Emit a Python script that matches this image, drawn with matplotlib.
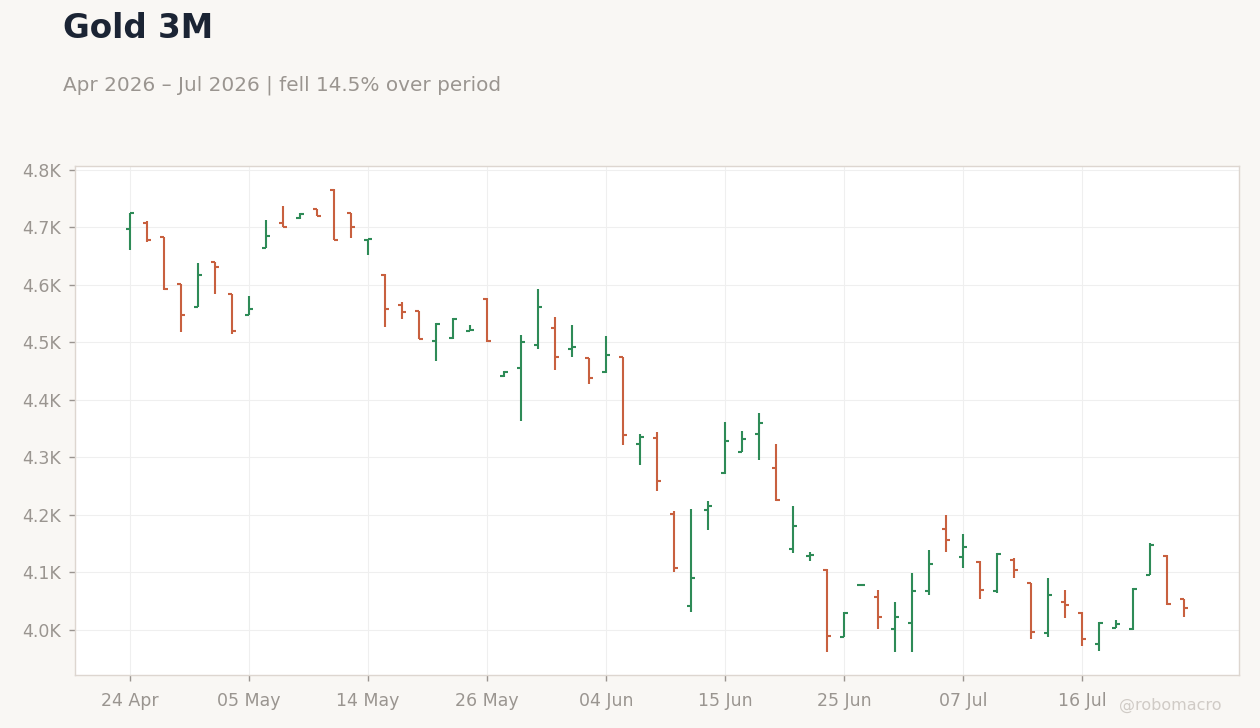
import numpy as np
import pandas as pd
import matplotlib
matplotlib.use("Agg")
import matplotlib.pyplot as plt

# trading days (US holidays skipped: 25 May, 19 Jun, 03 Jul)
dates = pd.bdate_range("2026-04-24", periods=63, freq="C",
                       holidays=["2026-05-25", "2026-06-19", "2026-07-03"])

opens = [4696, 4708, 4682, 4601, 4562, 4639, 4583, 4548, 4664, 4707,
         4715, 4731, 4764, 4724, 4678, 4616, 4564, 4554, 4503, 4508,
         4520, 4575, 4441, 4455, 4495, 4524, 4489, 4472, 4448, 4474,
         4324, 4333, 4201, 4042, 4209, 4272, 4310, 4340, 4281, 4140,
         4128, 4105, 3988, 4079, 4058, 4002, 4013, 4067, 4176, 4126,
         4118, 4067, 4122, 4081, 3995, 4049, 4030, 3975, 4004, 4002,
         4096, 4129, 4053]
highs = [4725, 4710, 4683, 4602, 4638, 4640, 4584, 4581, 4713, 4737,
         4724, 4732, 4766, 4725, 4680, 4618, 4570, 4555, 4533, 4542,
         4530, 4576, 4450, 4513, 4593, 4543, 4530, 4473, 4510, 4475,
         4341, 4344, 4207, 4210, 4224, 4361, 4346, 4377, 4324, 4216,
         4135, 4106, 4031, 4080, 4070, 4049, 4099, 4139, 4200, 4167,
         4120, 4133, 4125, 4082, 4090, 4070, 4031, 4014, 4017, 4073,
         4151, 4131, 4054]
lows = [4660, 4675, 4591, 4517, 4561, 4583, 4514, 4547, 4663, 4700,
        4714, 4719, 4677, 4681, 4651, 4526, 4540, 4505, 4467, 4506,
        4519, 4500, 4439, 4364, 4489, 4452, 4475, 4428, 4446, 4321,
        4286, 4241, 4100, 4031, 4173, 4271, 4309, 4296, 4224, 4134,
        4120, 3962, 3987, 4078, 4002, 3962, 3962, 4061, 4135, 4107,
        4053, 4065, 4091, 3985, 3987, 4020, 3973, 3964, 4003, 4000,
        4095, 4044, 4023]
closes = [4724, 4677, 4593, 4547, 4616, 4631, 4520, 4557, 4684, 4701,
          4722, 4720, 4678, 4700, 4679, 4557, 4553, 4506, 4532, 4541,
          4522, 4502, 4449, 4500, 4562, 4475, 4491, 4437, 4477, 4338,
          4336, 4259, 4108, 4091, 4216, 4329, 4331, 4359, 4225, 4181,
          4130, 3990, 4030, 4079, 4022, 4023, 4068, 4114, 4156, 4145,
          4070, 4132, 4105, 3997, 4061, 4044, 3985, 4013, 4011, 4072,
          4147, 4045, 4039]

title = "Gold 3M"
subtitle = "Apr 2026 \u2013 Jul 2026 | fell 14.5% over period"

UP = "#2e8b57"
DOWN = "#c8603f"
GREY = "#9a9590"

fig = plt.figure(figsize=(12.6, 7.28), dpi=100)
fig.patch.set_facecolor("#f9f7f4")
ax = fig.add_axes([75 / 1260, 53 / 728, 1164 / 1260, 509 / 728])
ax.set_facecolor("white")

x = np.arange(len(opens))
tick = 0.24
lw = 1.5
for i in x:
    c = UP if closes[i] >= opens[i] else DOWN
    ax.vlines(i, lows[i], highs[i], color=c, lw=lw)
    ax.hlines(opens[i], i - tick, i, color=c, lw=lw)
    ax.hlines(closes[i], i, i + tick, color=c, lw=lw)

n = len(opens) - 1
ax.set_xlim(-0.052 * n, n * 1.052)
rng = max(highs) - min(lows)
ax.set_ylim(min(lows) - 0.05 * rng, max(highs) + 0.05 * rng)

ticks_at = x[::7]
ax.set_xticks(ticks_at)
ax.set_xticklabels([dates[i].strftime("%d %b") for i in ticks_at])
ax.set_yticks(np.arange(4000, 4801, 100))
ax.set_yticklabels([f"{v / 1000:.1f}K" for v in np.arange(4000, 4801, 100)])

ax.grid(True, color="#efefef", lw=0.8)
ax.set_axisbelow(True)
for s in ax.spines.values():
    s.set_color("#ddd6d0")
    s.set_linewidth(1)
ax.tick_params(colors=GREY, labelsize=12.5, length=4, width=1)
ax.tick_params(axis="x", pad=8)
ax.tick_params(axis="y", pad=6)

fig.text(63 / 1260, 1 - 29 / 728, title, fontsize=23.5, fontweight="bold",
         color="#1b2434", va="center", ha="left")
fig.text(63 / 1260, 1 - 85 / 728, subtitle, fontsize=14.4, color=GREY,
         va="center", ha="left")
fig.text(1222 / 1260, 1 - 705 / 728, "@robomacro", fontsize=11.5,
         color="#d0cbc6", va="center", ha="right")

fig.savefig("out.png", dpi=100, facecolor=fig.get_facecolor())
